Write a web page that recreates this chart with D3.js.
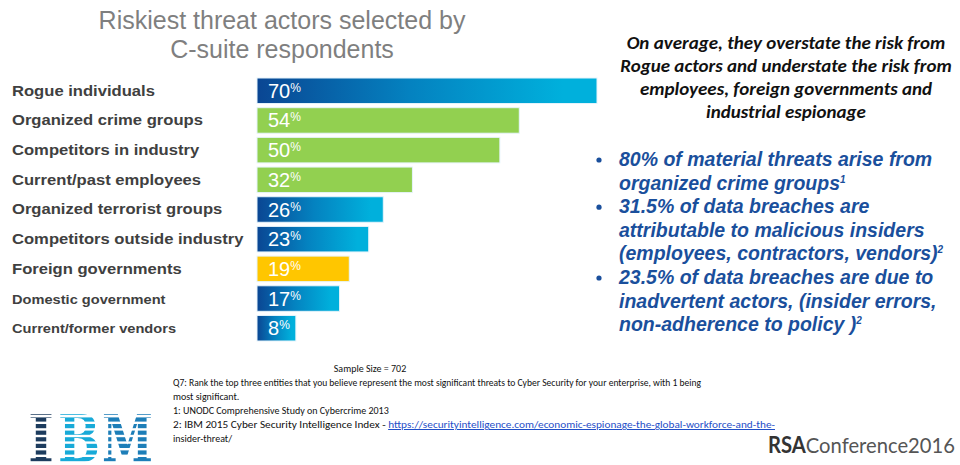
<!DOCTYPE html>
<html>
<head>
<meta charset="utf-8">
<script src="https://cdn.jsdelivr.net/npm/d3@7"></script>
<style>
  body { margin: 0; background: #fff; }
  svg { display: block; }
</style>
</head>
<body>
<svg id="chart" width="960" height="465"></svg>
<script>
// data
const actors = ["Rogue individuals", "Organized crime groups", "Competitors in industry",
  "Current/past employees", "Organized terrorist groups", "Competitors outside industry",
  "Foreign governments", "Domestic government", "Current/former vendors"];
const shares = [70, 54, 50, 32, 26, 23, 19, 17, 8];
const groups = ["blue", "green", "green", "green", "blue", "blue", "yellow", "blue", "blue"];

const titleLines = ["Riskiest threat actors selected by", "C-suite respondents"];
const noteLines = ["On average, they overstate the risk from", "Rogue actors and understate the risk from",
  "employees, foreign governments and", "industrial espionage"];
const bullets = [
  [["80% of material threats arise from"], ["organized crime groups", "1"]],
  [["31.5% of data breaches are"], ["attributable to malicious insiders"], ["(employees,  contractors, vendors)", "2"]],
  [["23.5% of data breaches are due to"], ["inadvertent actors, (insider errors,"], ["non-adherence to policy )", "2"]]
];
const footLines = [
  "Q7: Rank the top three entities that you believe represent the most significant threats to Cyber Security for your enterprise, with 1 being",
  "most significant.",
  "1: UNODC Comprehensive Study on Cybercrime 2013"
];

const svg = d3.select("#chart");

const defs = svg.append("defs");
const grad = defs.append("linearGradient").attr("id", "blueGrad")
  .attr("x1", 0).attr("x2", 1).attr("y1", 0).attr("y2", 0);
grad.append("stop").attr("offset", "0%").attr("stop-color", "#0a4693");
grad.append("stop").attr("offset", "45%").attr("stop-color", "#0482c0");
grad.append("stop").attr("offset", "90%").attr("stop-color", "#00b0dc");

const fills = { blue: "url(#blueGrad)", green: "#92d050", yellow: "#ffc600" };

// title
svg.append("g").selectAll("text").data(titleLines).join("text")
  .attr("x", 282).attr("y", (d, i) => 29 + i * 29)
  .attr("text-anchor", "middle")
  .style("font-family", "Liberation Sans, Arial, sans-serif")
  .style("font-size", "25px")
  .style("fill", "#7f7f7f")
  .text(d => d);

// scales
const x = d3.scaleLinear().domain([0, 70]).range([257, 597]);
const y = d3.scaleBand().domain(actors).range([78, 341]).paddingInner(0.14);

const rows = actors.map((a, i) => ({ actor: a, value: shares[i], group: groups[i], i }));

svg.append("g").selectAll("rect").data(rows).join("rect")
  .attr("x", x(0))
  .attr("y", d => y(d.actor))
  .attr("width", d => x(d.value) - x(0))
  .attr("height", y.bandwidth())
  .attr("fill", d => fills[d.group])
  .attr("stroke", "#e6f4fb")
  .attr("stroke-width", 1);

const vl = svg.append("g").selectAll("text").data(rows).join("text")
  .attr("x", x(0) + 11)
  .attr("y", d => y(d.actor) + y.bandwidth() / 2 + 7)
  .style("font-family", "Liberation Sans, Arial, sans-serif")
  .style("font-size", "20px")
  .style("fill", "#fff");
vl.append("tspan").text(d => d.value);
vl.append("tspan").attr("dy", -6).style("font-size", "12px").text("%");

// category labels (slightly stretched, like the slide)
svg.append("g")
  .attr("transform", "translate(12,0) scale(1.17,1)")
  .selectAll("text").data(rows).join("text")
  .attr("x", 0)
  .attr("y", d => y(d.actor) + y.bandwidth() / 2 + 5)
  .style("font-family", "Liberation Sans, Arial, sans-serif")
  .style("font-weight", "bold")
  .style("font-size", d => d.i >= 7 ? "12.5px" : "14.2px")
  .style("fill", "#404040")
  .text(d => d.actor);

// right-hand note
svg.append("g").selectAll("text").data(noteLines).join("text")
  .attr("x", 786).attr("y", (d, i) => 49 + i * 23)
  .attr("text-anchor", "middle")
  .style("font-family", "Carlito, Open Sans, sans-serif")
  .style("font-weight", "bold")
  .style("font-style", "italic")
  .style("font-size", "19px")
  .style("fill", "#111")
  .text(d => d);

// bullets
const bg = svg.append("g")
  .style("font-family", "Liberation Sans, Arial, sans-serif")
  .style("font-weight", "bold")
  .style("font-style", "italic")
  .style("fill", "#1a4f9c");
let lineNo = 0;
bullets.forEach(b => {
  const by = 166 + lineNo * 23.6;
  bg.append("circle").attr("cx", 599).attr("cy", by - 6).attr("r", 2.6).attr("fill", "#1a4f9c");
  b.forEach(part => {
    const t = bg.append("text").attr("x", 619).attr("y", 166 + lineNo * 23.6)
      .style("font-size", "19.5px");
    t.append("tspan").text(part[0]);
    if (part[1]) t.append("tspan").attr("dy", -7).style("font-size", "10px").text(part[1]);
    lineNo++;
  });
});

// footnotes
const fg = svg.append("g")
  .style("font-family", "Carlito, Liberation Sans, sans-serif")
  .style("font-size", "10px")
  .style("fill", "#111");
fg.append("text").attr("x", 370).attr("y", 372).attr("text-anchor", "middle").text("Sample Size = 702");
fg.selectAll("text.f").data(footLines).join("text").attr("class", "f")
  .attr("x", 173).attr("y", (d, i) => 386 + i * 14)
  .attr("textLength", (d, i) => i === 0 ? 528 : null)
  .attr("lengthAdjust", "spacingAndGlyphs")
  .text(d => d);
const ref = fg.append("text").attr("x", 173).attr("y", 428)
  .attr("textLength", 602).attr("lengthAdjust", "spacingAndGlyphs");
ref.append("tspan").text("2: IBM 2015 Cyber Security Intelligence Index - ");
ref.append("tspan").style("fill", "#1f4fc8").style("text-decoration", "underline")
  .text("https://securityintelligence.com/economic-espionage-the-global-workforce-and-the-");
fg.append("text").attr("x", 173).attr("y", 442).text("insider-threat/");

// IBM logo (striped), one text per letter
svg.append("g").selectAll("text")
  .data([["I", "#1d3c5e", 28, 26], ["B", "#18aad8", 58, 42], ["M", "#1d7eb8", 102, 51]])
  .join("text")
  .attr("x", d => d[2]).attr("y", 462)
  .attr("textLength", d => d[3]).attr("lengthAdjust", "spacingAndGlyphs")
  .style("font-family", "DejaVu Serif, serif")
  .style("font-weight", "bold")
  .style("font-size", "66px")
  .style("fill", d => d[1])
  .text(d => d[0]);
svg.append("g").selectAll("rect").data(d3.range(8)).join("rect")
  .attr("x", 24).attr("y", d => 411 + d * 6.6 + 4).attr("width", 134).attr("height", 2.4)
  .attr("fill", "#fff");

// RSA Conference 2016
const rsa = svg.append("text").attr("x", 768).attr("y", 453)
  .attr("textLength", 187).attr("lengthAdjust", "spacingAndGlyphs")
  .style("font-family", "Lato, Open Sans, sans-serif")
  .style("font-size", "22px");
rsa.append("tspan").style("font-weight", "bold").style("fill", "#333").text("RSA");
rsa.append("tspan").style("fill", "#555").text("Conference2016");
</script>
</body>
</html>
